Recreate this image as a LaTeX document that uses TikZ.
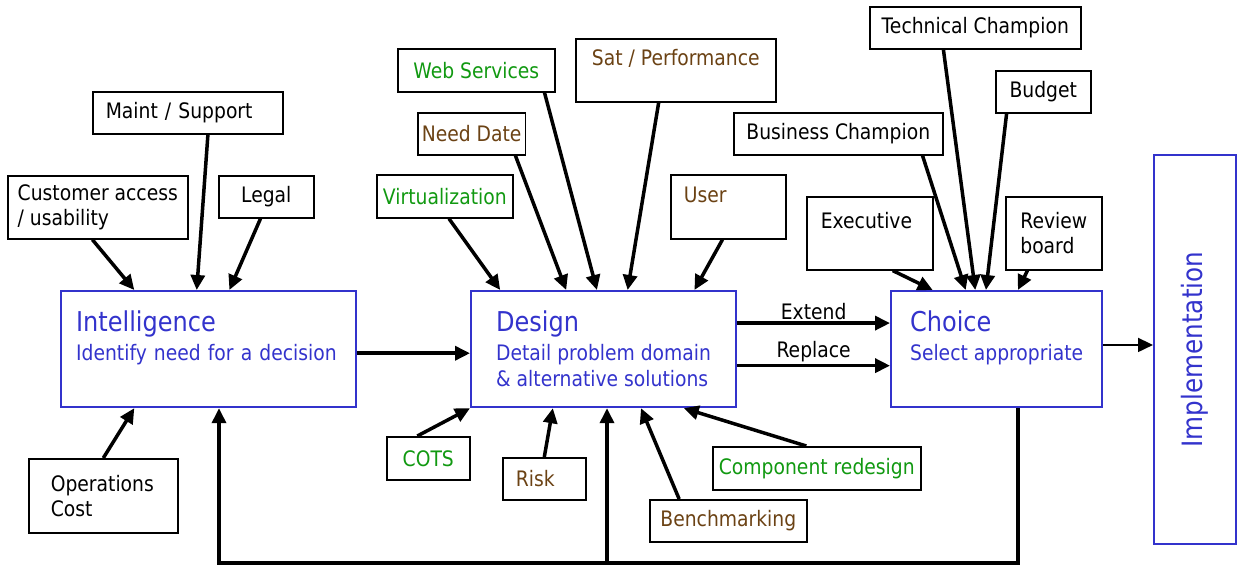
\documentclass[tikz,border=0pt]{standalone}
\usepackage{fontspec}
\setmainfont{DejaVu Sans}[FakeStretch=0.88]
\usetikzlibrary{arrows.meta,calc}

\definecolor{stageblue}{RGB}{51,51,204}
\definecolor{techgreen}{RGB}{17,153,17}
\definecolor{bizbrown}{RGB}{107,66,20}

\newcommand{\stagetitle}{\fontsize{27.3}{30}\selectfont}
\newcommand{\factorfont}{\fontsize{21.3}{25}\selectfont}

\tikzset{
  factor/.style={draw, line width=1.6pt, anchor=north west, align=left,
    inner xsep=4pt, inner ysep=0pt, font=\factorfont},
  stage/.style={draw=stageblue, line width=2.2pt, anchor=north west, align=left,
    inner xsep=14pt, inner ysep=0pt, text=stageblue, font=\fontsize{21.3}{26}\selectfont},
  push/.style={line width=3.5pt, -{Triangle[length=15pt,width=14pt]}},
}

\begin{document}
\begin{tikzpicture}[x=1pt, y=1pt]
    \useasboundingbox (0,0) rectangle (1237,-565);

    % Stages
    \node[stage, text width=265, inner xsep=15pt, minimum height=116] (intel) at (60,-290)
        {{\stagetitle Intelligence}\\[3pt]Identify need for a decision\\~};
    \node[stage, minimum width=265, minimum height=116] (design) at (470,-290)
        {{\stagetitle Design}\\[3pt]Detail problem domain\\\& alternative solutions};
    \node[stage, minimum width=211, minimum height=116] (choice) at (890,-290)
        {{\stagetitle Choice}\\[3pt]Select appropriate\\~};
    \node[stage, minimum width=82, minimum height=389,
        label={[rotate=90, text=stageblue, font=\fontsize{28}{30}\selectfont]center:Implementation}] (impl) at (1153,-154) {};

    % Factors around intelligence
    \node[factor, minimum width=180, minimum height=63] (cust) at (7,-175) {Customer access\\/ usability};
    \node[factor, text width=164, inner xsep=13pt, minimum height=42] (maint) at (92,-91) {Maint / Support};
    \node[factor, minimum width=95, minimum height=42] (legal) at (218,-175) {Legal};
    \node[factor, text width=105, inner xsep=22pt, minimum height=74] (ops) at (28,-458) {Operations\\Cost};

    % Factors around design
    \node[factor, minimum width=157, minimum height=43, text=techgreen] (web) at (397,-48) {Web Services};
    \node[factor, minimum width=200, minimum height=63, text=bizbrown] (sat) at (575,-38) {Sat / Performance\\~};
    \node[factor, minimum width=106, minimum height=42, text=bizbrown] (need) at (417,-112) {Need Date};
    \node[factor, minimum width=136, minimum height=43, text=techgreen] (virt) at (376,-174) {Virtualization};
    \node[factor, text width=89, inner xsep=13pt, minimum height=64, text=bizbrown] (user) at (670,-174) {User\\~};
    \node[factor, minimum width=83, minimum height=43, text=techgreen] (cots) at (386,-436) {COTS};
    \node[factor, text width=57, inner xsep=13pt, minimum height=42, text=bizbrown] (risk) at (502,-457) {Risk};
    \node[factor, minimum width=157, minimum height=42, text=bizbrown] (bench) at (649,-499) {Benchmarking};
    \node[factor, minimum width=208, minimum height=43, text=techgreen] (comp) at (712,-446) {Component redesign};

    % Factors around choice
    \node[factor, minimum width=211, minimum height=42] (tech) at (869,-6) {Technical Champion};
    \node[factor, minimum width=95, minimum height=42] (budget) at (995,-70) {Budget};
    \node[factor, minimum width=209, minimum height=42] (bus) at (733,-112) {Business Champion};
    \node[factor, text width=98, inner xsep=14pt, minimum height=73] (exec) at (806,-196) {Executive\\~};
    \node[factor, minimum width=96, minimum height=73] (review) at (1005,-196) {Review\\board};

    % Inputs to intelligence
    \draw[push] ($(cust.south west)!0.47!(cust.south east)$) -- ($(intel.north west)!0.25!(intel.north east)$);
    \draw[push] ($(maint.south west)!0.605!(maint.south east)$) -- ($(intel.north west)!0.46!(intel.north east)$);
    \draw[push] ($(legal.south west)!0.44!(legal.south east)$) -- ($(intel.north west)!0.57!(intel.north east)$);
    \draw[push] ($(ops.north west)!0.5!(ops.north east)$) -- ($(intel.south west)!0.25!(intel.south east)$);

    % Inputs to design
    \draw[push] ($(virt.south west)!0.53!(virt.south east)$) -- ($(design.north west)!0.113!(design.north east)$);
    \draw[push] ($(need.south west)!0.9!(need.south east)$) -- ($(design.north west)!0.36!(design.north east)$);
    \draw[push] ($(web.south west)!0.93!(web.south east)$) -- ($(design.north west)!0.475!(design.north east)$);
    \draw[push] ($(sat.south west)!0.415!(sat.south east)$) -- ($(design.north west)!0.59!(design.north east)$);
    \draw[push] ($(user.south west)!0.45!(user.south east)$) -- ($(design.north west)!0.84!(design.north east)$);
    \draw[push] ($(cots.north west)!0.37!(cots.north east)$) -- (design.south west);
    \draw[push] ($(risk.north west)!0.5!(risk.north east)$) -- ($(design.south west)!0.31!(design.south east)$);
    \draw[push] ($(bench.north west)!0.19!(bench.north east)$) -- ($(design.south west)!0.64!(design.south east)$);
    \draw[push] ($(comp.north west)!0.45!(comp.north east)$) -- ($(design.south west)!0.8!(design.south east)$);

    % Inputs to choice
    \draw[push] ($(exec.south west)!0.68!(exec.south east)$) -- ($(choice.north west)!0.2!(choice.north east)$);
    \draw[push] ($(bus.south west)!0.9!(bus.south east)$) -- ($(choice.north west)!0.355!(choice.north east)$);
    \draw[push] ($(tech.south west)!0.35!(tech.south east)$) -- ($(choice.north west)!0.4!(choice.north east)$);
    \draw[push] ($(budget.south west)!0.12!(budget.south east)$) -- ($(choice.north west)!0.45!(choice.north east)$);
    \draw[push] ($(review.south west)!0.23!(review.south east)$) -- ($(choice.north west)!0.6!(choice.north east)$);

    % Stage flow
    \draw[push] ($(intel.north east)!0.535!(intel.south east)$) coordinate (fwd) -- (fwd -| design.west);
    \draw[push] ($(design.north east)!0.28!(design.south east)$) coordinate (ext)
        -- (ext -| choice.west) node[midway, above, inner sep=2pt, font=\factorfont] (extlbl) {Extend};
    \draw[push] ($(design.north east)!0.64!(design.south east)$) coordinate (rep)
        -- (rep -| choice.west) node[midway, above, inner sep=2pt, font=\factorfont] (replbl) {Replace};
    \draw[line width=1.8pt, -{Triangle[length=15pt,width=14pt]}] ($(choice.north east)!0.465!(choice.south east)$) coordinate (go)
        -- (go -| impl.west);

    % Feedback loop
    \coordinate (back) at (607,-563);
    \draw[push] ($(choice.south west)!0.6!(choice.south east)$) |- (back) -| ($(intel.south west)!0.535!(intel.south east)$);
    \draw[push] (back) -- (back |- design.south);
\end{tikzpicture}
\end{document}
